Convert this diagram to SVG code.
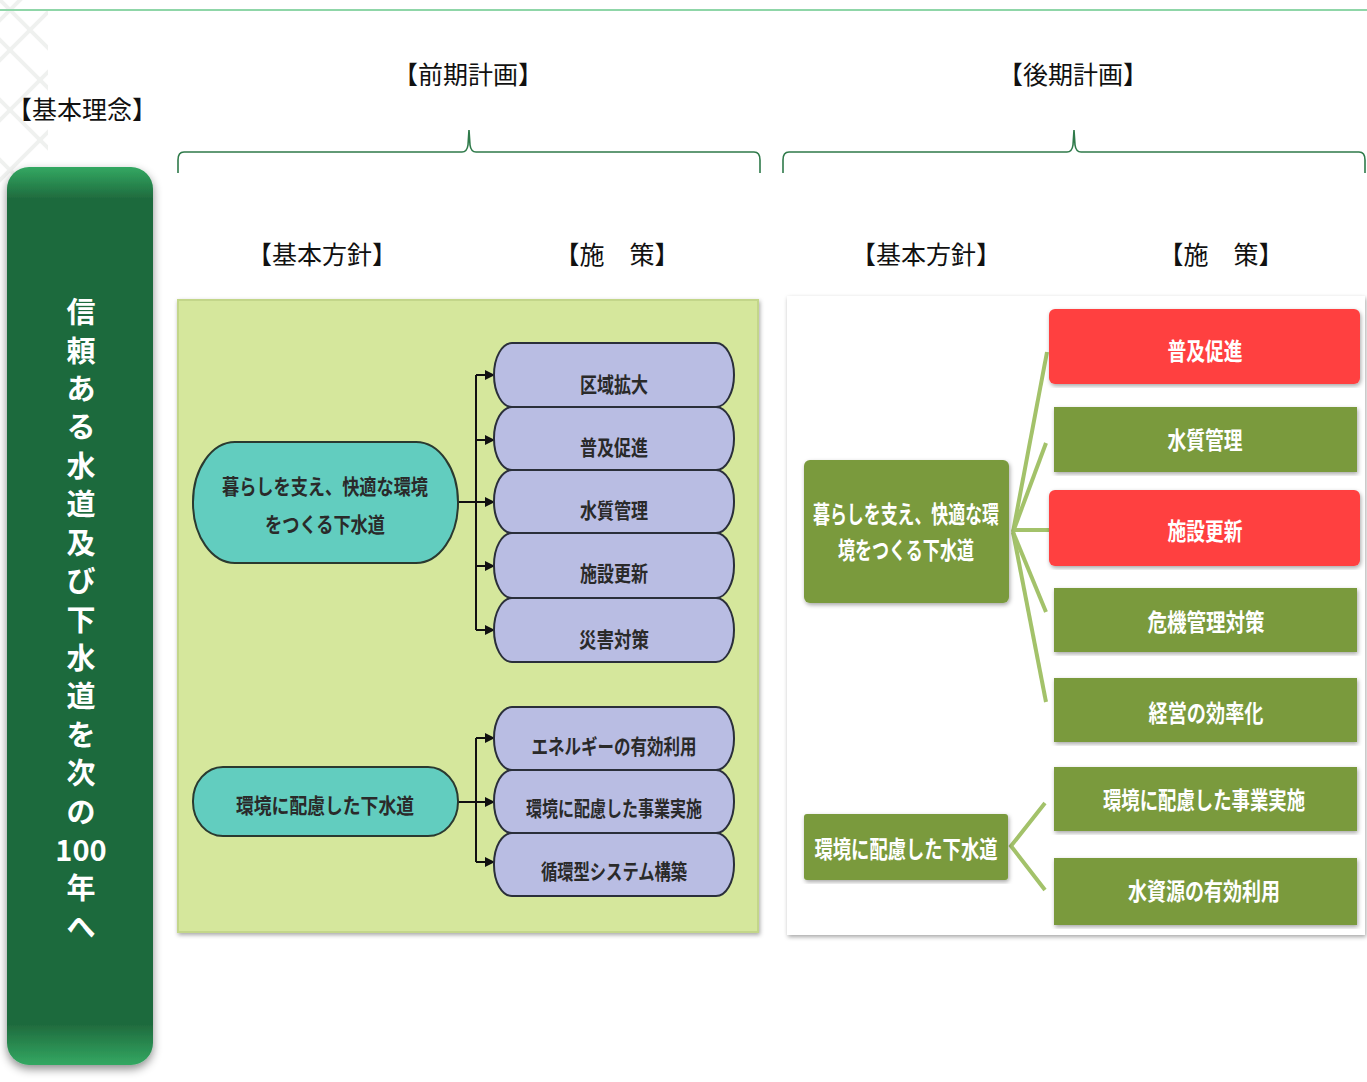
<svg xmlns="http://www.w3.org/2000/svg" width="1367" height="1082" viewBox="0 0 1367 1082">
<defs>
<style>
.hdr{font-family:"Noto Sans CJK JP","Noto Sans",sans-serif;font-size:25px;fill:#111;text-anchor:middle}
.brace{fill:none;stroke:#2f7a4a;stroke-width:1.6}
.lbl{font-family:"Noto Sans CJK JP","Noto Sans",sans-serif;font-weight:bold;text-anchor:middle;dominant-baseline:central}
.dark{fill:#2a2a2a;font-size:21px}
.light{fill:#ffffff;font-size:24px}
.pillT{fill:#62cdbf;stroke:#2a3a30;stroke-width:2}
.pillL{fill:#b9bde3;stroke:#2a2f3a;stroke-width:2}
.olive{fill:#7a9a3c}
.red{fill:#ff4040}
.conn{stroke:#111;stroke-width:2;fill:none}
.gconn{stroke:#a3c26a;stroke-width:4;fill:none}
.vt{font-family:"Noto Sans CJK JP","Noto Sans",sans-serif;font-weight:bold;font-size:29px;fill:#fff;text-anchor:middle;dominant-baseline:central}
</style>
<marker id="ah" viewBox="0 0 10 10" refX="9" refY="5" markerWidth="10" markerHeight="10" markerUnits="userSpaceOnUse" orient="auto">
<path d="M0,0 L10,5 L0,10 z" fill="#111"/>
</marker>
<linearGradient id="gbar" x1="0" y1="0" x2="0" y2="1">
<stop offset="0" stop-color="#33a862"/>
<stop offset="0.035" stop-color="#1f6b3e"/>
<stop offset="0.955" stop-color="#1f6b3e"/>
<stop offset="1" stop-color="#33a862"/>
</linearGradient>
<filter id="sh" x="-20%" y="-10%" width="140%" height="120%">
<feDropShadow dx="0" dy="4" stdDeviation="5" flood-color="#000" flood-opacity="0.45"/>
</filter>
<filter id="sh2" x="-5%" y="-5%" width="110%" height="110%">
<feDropShadow dx="1" dy="2" stdDeviation="2" flood-color="#000" flood-opacity="0.35"/>
</filter>
<clipPath id="lat"><rect x="0" y="0" width="48" height="190"/></clipPath>
</defs>

<rect x="0" y="0" width="1367" height="1082" fill="#ffffff"/>

<!-- decorative lattice -->
<g clip-path="url(#lat)" stroke="#eceeec" stroke-width="4" fill="none" opacity="0.8">
<path d="M-40,0 L60,100 M-40,60 L60,160 M-40,120 L60,220 M-20,-20 L80,80"/>
<path d="M60,0 L-40,100 M60,60 L-40,160 M60,120 L-40,220 M40,-20 L-60,80"/>
</g>

<!-- top line -->
<line x1="0" y1="10" x2="1367" y2="10" stroke="#8fd6a8" stroke-width="2"/>

<!-- headers -->
<g id="headers">
<text class="hdr" x="82" y="119">【基本理念】</text>
<text class="hdr" x="468" y="84">【前期計画】</text>
<text class="hdr" x="1073" y="84">【後期計画】</text>
<text class="hdr" x="322" y="264">【基本方針】</text>
<text class="hdr" x="617" y="264">【施　策】</text>
<text class="hdr" x="926" y="264">【基本方針】</text>
<text class="hdr" x="1221" y="264">【施　策】</text>
</g>

<!-- braces -->
<g id="braces">
<path class="brace" d="M178,173 L178,160 Q178,152 184,152 L462,152 Q467,152 468,145 L469,130 L470,145 Q471,152 476,152 L754,152 Q760,152 760,160 L760,173"/>
<path class="brace" d="M783,173 L783,160 Q783,152 789,152 L1067,152 Q1072,152 1073,145 L1074,130 L1075,145 Q1076,152 1081,152 L1359,152 Q1365,152 1365,160 L1365,173"/>
</g>

<!-- left vertical bar -->
<g id="philosophy">
<rect x="7" y="167" width="146" height="898" rx="22" fill="url(#gbar)" filter="url(#sh)"/>
<text class="vt" x="81" y="310">信</text>
<text class="vt" x="81" y="349">頼</text>
<text class="vt" x="81" y="387">あ</text>
<text class="vt" x="81" y="425">る</text>
<text class="vt" x="81" y="464">水</text>
<text class="vt" x="81" y="502">道</text>
<text class="vt" x="81" y="541">及</text>
<text class="vt" x="81" y="579">び</text>
<text class="vt" x="81" y="618">下</text>
<text class="vt" x="81" y="656">水</text>
<text class="vt" x="81" y="694">道</text>
<text class="vt" x="81" y="733">を</text>
<text class="vt" x="81" y="771">次</text>
<text class="vt" x="81" y="810">の</text>
<text class="vt" x="81" y="848">100</text>
<text class="vt" x="81" y="886">年</text>
<text class="vt" x="81" y="925">へ</text>
</g>

<!-- left panel -->
<g id="panel-early">
<rect x="178" y="300" width="580" height="632" fill="#d5e79c" stroke="#c3d68a" stroke-width="2" filter="url(#sh2)"/>
</g>

<!-- right panel -->
<g id="panel-late">
<rect x="787" y="296" width="578" height="639" fill="#ffffff" filter="url(#sh2)"/>
</g>

<!-- connectors -->
<g id="connectors">
<path class="conn" d="M458,502 L476,502" stroke-width="3"/>
<path class="conn" d="M476,375 L476,630"/>
<path class="conn" d="M476,375 L494,375" marker-end="url(#ah)"/>
<path class="conn" d="M476,440 L494,440" marker-end="url(#ah)"/>
<path class="conn" d="M476,502 L494,502" marker-end="url(#ah)"/>
<path class="conn" d="M476,566 L494,566" marker-end="url(#ah)"/>
<path class="conn" d="M476,630 L494,630" marker-end="url(#ah)"/>
<path class="conn" d="M458,802 L476,802" stroke-width="3"/>
<path class="conn" d="M476,738 L476,862"/>
<path class="conn" d="M476,738 L494,738" marker-end="url(#ah)"/>
<path class="conn" d="M476,802 L494,802" marker-end="url(#ah)"/>
<path class="conn" d="M476,862 L494,862" marker-end="url(#ah)"/>

<path class="gconn" d="M1013,532 L1047,352"/>
<path class="gconn" d="M1013,532 L1046,443"/>
<path class="gconn" d="M1013,530 L1050,530" stroke-width="6" stroke="#9fb873"/>
<path class="gconn" d="M1013,532 L1046,612"/>
<path class="gconn" d="M1013,532 L1046,702"/>
<path class="gconn" d="M1045,803 L1011,846 L1045,890"/>
</g>

<!-- left nodes -->
<g id="early-policy-1">
<rect class="pillT" x="193" y="442" width="265" height="121" rx="42" ry="60"/>
<text class="lbl dark" x="325" y="485" textLength="206" lengthAdjust="spacingAndGlyphs">暮らしを支え、快適な環境</text>
<text class="lbl dark" x="325" y="523" textLength="120" lengthAdjust="spacingAndGlyphs">をつくる下水道</text>
</g>
<g id="early-policy-2">
<rect class="pillT" x="193" y="767" width="265" height="69" rx="30" ry="34"/>
<text class="lbl dark" x="325" y="804" textLength="178" lengthAdjust="spacingAndGlyphs">環境に配慮した下水道</text>
</g>

<g id="e1"><rect class="pillL" x="494" y="343" width="240" height="64" rx="18" ry="32"/><text class="lbl dark" x="614" y="383" textLength="68" lengthAdjust="spacingAndGlyphs">区域拡大</text></g>
<g id="e2"><rect class="pillL" x="494" y="407" width="240" height="63" rx="18" ry="31"/><text class="lbl dark" x="614" y="446" textLength="68" lengthAdjust="spacingAndGlyphs">普及促進</text></g>
<g id="e3"><rect class="pillL" x="494" y="470" width="240" height="63" rx="18" ry="31"/><text class="lbl dark" x="614" y="509" textLength="68" lengthAdjust="spacingAndGlyphs">水質管理</text></g>
<g id="e4"><rect class="pillL" x="494" y="533" width="240" height="65" rx="18" ry="32"/><text class="lbl dark" x="614" y="572" textLength="68" lengthAdjust="spacingAndGlyphs">施設更新</text></g>
<g id="e5"><rect class="pillL" x="494" y="598" width="240" height="64" rx="18" ry="32"/><text class="lbl dark" x="614" y="638" textLength="70" lengthAdjust="spacingAndGlyphs">災害対策</text></g>

<g id="e6"><rect class="pillL" x="494" y="707" width="240" height="63" rx="18" ry="31"/><text class="lbl dark" x="614" y="745" textLength="165" lengthAdjust="spacingAndGlyphs">エネルギーの有効利用</text></g>
<g id="e7"><rect class="pillL" x="494" y="770" width="240" height="63" rx="18" ry="31"/><text class="lbl dark" x="614" y="807" textLength="176" lengthAdjust="spacingAndGlyphs">環境に配慮した事業実施</text></g>
<g id="e8"><rect class="pillL" x="494" y="833" width="240" height="63" rx="18" ry="31"/><text class="lbl dark" x="614" y="870" textLength="146" lengthAdjust="spacingAndGlyphs">循環型システム構築</text></g>

<!-- right nodes -->
<g id="late-policy-1">
<rect class="olive" x="804" y="460" width="205" height="143" rx="6" filter="url(#sh2)"/>
<text class="lbl light" x="906" y="512" textLength="186" lengthAdjust="spacingAndGlyphs">暮らしを支え、快適な環</text>
<text class="lbl light" x="906" y="548" textLength="136" lengthAdjust="spacingAndGlyphs">境をつくる下水道</text>
</g>
<g id="late-policy-2">
<rect class="olive" x="804" y="814" width="204" height="66" rx="3" filter="url(#sh2)"/>
<text class="lbl light" x="906" y="847" textLength="183" lengthAdjust="spacingAndGlyphs">環境に配慮した下水道</text>
</g>

<g id="l1"><rect class="red" x="1049" y="309" width="311" height="75" rx="6" filter="url(#sh2)"/><text class="lbl light" x="1205" y="349" textLength="75" lengthAdjust="spacingAndGlyphs">普及促進</text></g>
<g id="l2"><rect class="olive" x="1054" y="407" width="303" height="65" filter="url(#sh2)"/><text class="lbl light" x="1205" y="438" textLength="75" lengthAdjust="spacingAndGlyphs">水質管理</text></g>
<g id="l3"><rect class="red" x="1049" y="490" width="311" height="76" rx="6" filter="url(#sh2)"/><text class="lbl light" x="1205" y="529" textLength="75" lengthAdjust="spacingAndGlyphs">施設更新</text></g>
<g id="l4"><rect class="olive" x="1054" y="588" width="303" height="64" filter="url(#sh2)"/><text class="lbl light" x="1206" y="620" textLength="117" lengthAdjust="spacingAndGlyphs">危機管理対策</text></g>
<g id="l5"><rect class="olive" x="1054" y="678" width="303" height="64" filter="url(#sh2)"/><text class="lbl light" x="1206" y="711" textLength="115" lengthAdjust="spacingAndGlyphs">経営の効率化</text></g>
<g id="l6"><rect class="olive" x="1054" y="767" width="303" height="64" filter="url(#sh2)"/><text class="lbl light" x="1204" y="798" textLength="202" lengthAdjust="spacingAndGlyphs">環境に配慮した事業実施</text></g>
<g id="l7"><rect class="olive" x="1054" y="858" width="303" height="67" filter="url(#sh2)"/><text class="lbl light" x="1204" y="889" textLength="152" lengthAdjust="spacingAndGlyphs">水資源の有効利用</text></g>
</svg>
